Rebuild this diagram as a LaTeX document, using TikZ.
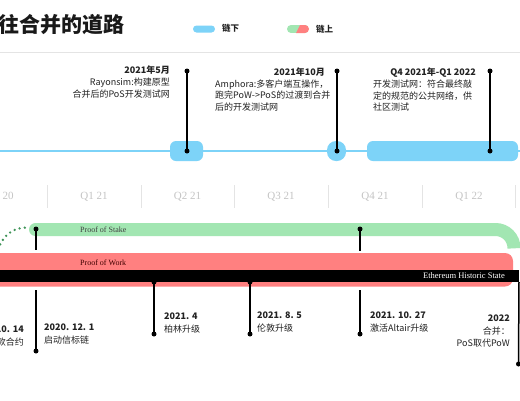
\documentclass[tikz,border=0pt]{standalone}
\usepackage{fontspec}
\setmainfont{Liberation Serif}
\newfontfamily\cjk{Noto Sans CJK SC}
\definecolor{offblue}{HTML}{7DD3F8}
\definecolor{posgreen}{HTML}{A2E6B2}
\definecolor{powred}{HTML}{FF8080}
\definecolor{dotgreen}{HTML}{3F9458}
\definecolor{qgray}{HTML}{C4C4C4}
\definecolor{sepgray}{HTML}{E4E4E4}
\definecolor{txt}{HTML}{222222}
\begin{document}
\begin{tikzpicture}[x=1pt,y=-1pt,
  tdot/.style={circle,fill=black,inner sep=0pt,minimum size=5pt},
  stem/.style={line width=1.5pt,black},
  lbl/.style={font=\cjk\fontsize{9}{11}\selectfont,text=txt,inner sep=0pt},
  hdr/.style={font=\cjk\bfseries\fontsize{9}{11}\selectfont,text=txt,inner sep=0pt},
  qlbl/.style={font=\fontsize{11}{13}\selectfont,text=qgray,inner sep=0pt},
  qsep/.style={sepgray,line width=0.8pt},
  bandtxt/.style={font=\fontsize{8}{10}\selectfont,inner sep=0pt},
  offbox/.style={fill=offblue,rounded corners=6pt,inner sep=0pt},
]
\clip (0,0) rectangle (520,400);
\fill[white] (0,0) rectangle (520,400);

% title and legend
\node[font=\cjk\bfseries\fontsize{21}{23}\selectfont,anchor=west,inner sep=0pt,text=black!90] (title) at (-2,25) {往合并的道路};
\fill[offblue,rounded corners=3.5pt] (193,25.5) rectangle (215,32.5);
\node[font=\cjk\bfseries\fontsize{8.5}{10}\selectfont,anchor=west,inner sep=0pt,text=txt] (leg1) at (222,28.5) {链下};
\begin{scope}
  \clip[rounded corners=4pt] (287,25) rectangle (309,33);
  \fill[posgreen] (287,25) rectangle (309,33);
  \fill[powred] (300,25) -- (309,25) -- (309,33) -- (296,33) -- cycle;
\end{scope}
\node[font=\cjk\bfseries\fontsize{8.5}{10}\selectfont,anchor=west,inner sep=0pt,text=txt] (leg2) at (316,29) {链上};
\draw[sepgray,line width=1pt] (0,52) -- (520,52);

% off-chain line
\coordinate (offL) at (0,151);
\coordinate (offR) at (520,151);
\draw[offblue,line width=1.5pt] (offL) -- (offR);
\node[offbox,minimum width=33pt,minimum height=20pt] (b1) at (186.5,151) {};
\node[offbox,minimum width=19pt,minimum height=20pt,rounded corners=9pt] (b2) at (336.5,151) {};
\node[offbox,minimum width=151pt,minimum height=20pt] (b3) at (442.5,151) {};

\node[tdot] (u1) at (187,71) {};
\node[tdot] (d1) at (187,151) {};
\node[tdot] (u2) at (337,71) {};
\node[tdot] (d2) at (337,151) {};
\node[tdot] (u3) at (490,71) {};
\node[tdot] (d3) at (490,151) {};
\draw[stem] (u1.center) -- (d1.center);
\draw[stem] (u2.center) -- (d2.center);
\draw[stem] (u3.center) -- (d3.center);

% top texts
\node[hdr,anchor=base east] (t1a) at (170,73.5) {2021年5月};
\node[lbl,anchor=base east] (t1b) at (170,85.5) {Rayonsim:构建原型};
\node[lbl,anchor=base east] (t1c) at (170,97) {合并后的PoS开发测试网};
\node[hdr,anchor=base east] (t2a) at (325,75) {2021年10月};
\node[lbl,anchor=base west] (t2b) at (215,87) {Amphora:多客户端互操作，};
\node[lbl,anchor=base west] (t2c) at (215,98.5) {跑完PoW->PoS的过渡到合并};
\node[lbl,anchor=base west] (t2d) at (215,110) {后的开发测试网};
\node[hdr,anchor=base east] (t3a) at (476,75.5) {Q4 2021年-Q1 2022};
\node[lbl,anchor=base west] (t3b) at (373,87.5) {开发测试网：符合最终敲};
\node[lbl,anchor=base west] (t3c) at (373,99) {定的规范的公共网络，供};
\node[lbl,anchor=base west] (t3d) at (373,110.5) {社区测试};

% quarter axis
\foreach \x in {47,141,234,328,422,515} \draw[qsep] (\x,185) -- (\x,208);
\node[qlbl] (q0) at (0,197) {Q4 20};
\node[qlbl] (q1) at (94,197) {Q1 21};
\node[qlbl] (q2) at (187.5,197) {Q2 21};
\node[qlbl] (q3) at (281,197) {Q3 21};
\node[qlbl] (q4) at (375,197) {Q4 21};
\node[qlbl] (q5) at (469,197) {Q1 22};

% Proof of Stake band
\draw[posgreen,line width=13pt,rounded corners=18.5pt] (35.5,229.5) -- (514,229.5) -- (514,247);
\fill[posgreen] (35.5,229.5) circle (6.5pt);
\draw[dotgreen,line width=2.6pt,line cap=round,dash pattern=on 0pt off 5.2pt] (-2,249) .. controls (5,232) and (15,227.5) .. (29,227.5);
\node[bandtxt,anchor=west,text=black!75] (pos) at (80,229.5) {Proof of Stake};

% Proof of Work band + history
\fill[powred,rounded corners=8pt] (-10,253) rectangle (513,286.5);
\node[bandtxt,anchor=west,text=black!75!red] (pow) at (80,262.5) {Proof of Work};
\fill[black] (-10,269.5) rectangle (519,282);
\node[bandtxt,font=\fontsize{8.5}{10}\selectfont,anchor=east,text=white] (hist) at (505,276) {Ethereum Historic State};

% stems from PoS
\node[tdot] (s1) at (36,229) {};
\coordinate (s1b) at (36,250);
\draw[stem] (s1.center) -- (s1b);
\node[tdot] (s2) at (360,229) {};
\coordinate (s2b) at (360,251);
\draw[stem] (s2.center) -- (s2b);

% stems below history
\coordinate (e1t) at (36,290);
\node[tdot] (e1) at (36,351) {};
\draw[stem] (e1t) -- (e1.center);
\node[tdot] (e2t) at (154,282) {};
\node[tdot] (e2) at (154,334) {};
\draw[stem] (e2t.center) -- (e2.center);
\node[tdot] (e3t) at (250,282) {};
\node[tdot] (e3) at (250,334) {};
\draw[stem] (e3t.center) -- (e3.center);
\coordinate (e4t) at (360,290);
\node[tdot] (e4) at (360,334) {};
\draw[stem] (e4t) -- (e4.center);
\coordinate (e5t) at (519,282);
\node[tdot] (e5) at (518.5,364) {};
\draw[stem] (e5t) -- (e5.center);

% bottom texts
\node[hdr,anchor=base east] (l0a) at (24,332.5) {2020. 10. 14};
\node[lbl,anchor=base east] (l0b) at (24,345.5) {存款合约};
\node[hdr,anchor=base west] (l1a) at (44,330.5) {2020. 12. 1};
\node[lbl,anchor=base west] (l1b) at (44,343.5) {启动信标链};
\node[hdr,anchor=base west] (l2a) at (164,319.5) {2021. 4};
\node[lbl,anchor=base west] (l2b) at (164,332.5) {柏林升级};
\node[hdr,anchor=base west] (l3a) at (257,318.5) {2021. 8. 5};
\node[lbl,anchor=base west] (l3b) at (257,331.5) {伦敦升级};
\node[hdr,anchor=base west] (l4a) at (370,318.5) {2021. 10. 27};
\node[lbl,anchor=base west] (l4b) at (370,331.5) {激活Altair升级};
\node[hdr,anchor=base east] (l5a) at (510,321.5) {2022};
\node[lbl,anchor=base east] (l5b) at (510,334.5) {合并：};
\node[lbl,anchor=base east] (l5c) at (510,346.5) {PoS取代PoW};
\end{tikzpicture}
\end{document}
